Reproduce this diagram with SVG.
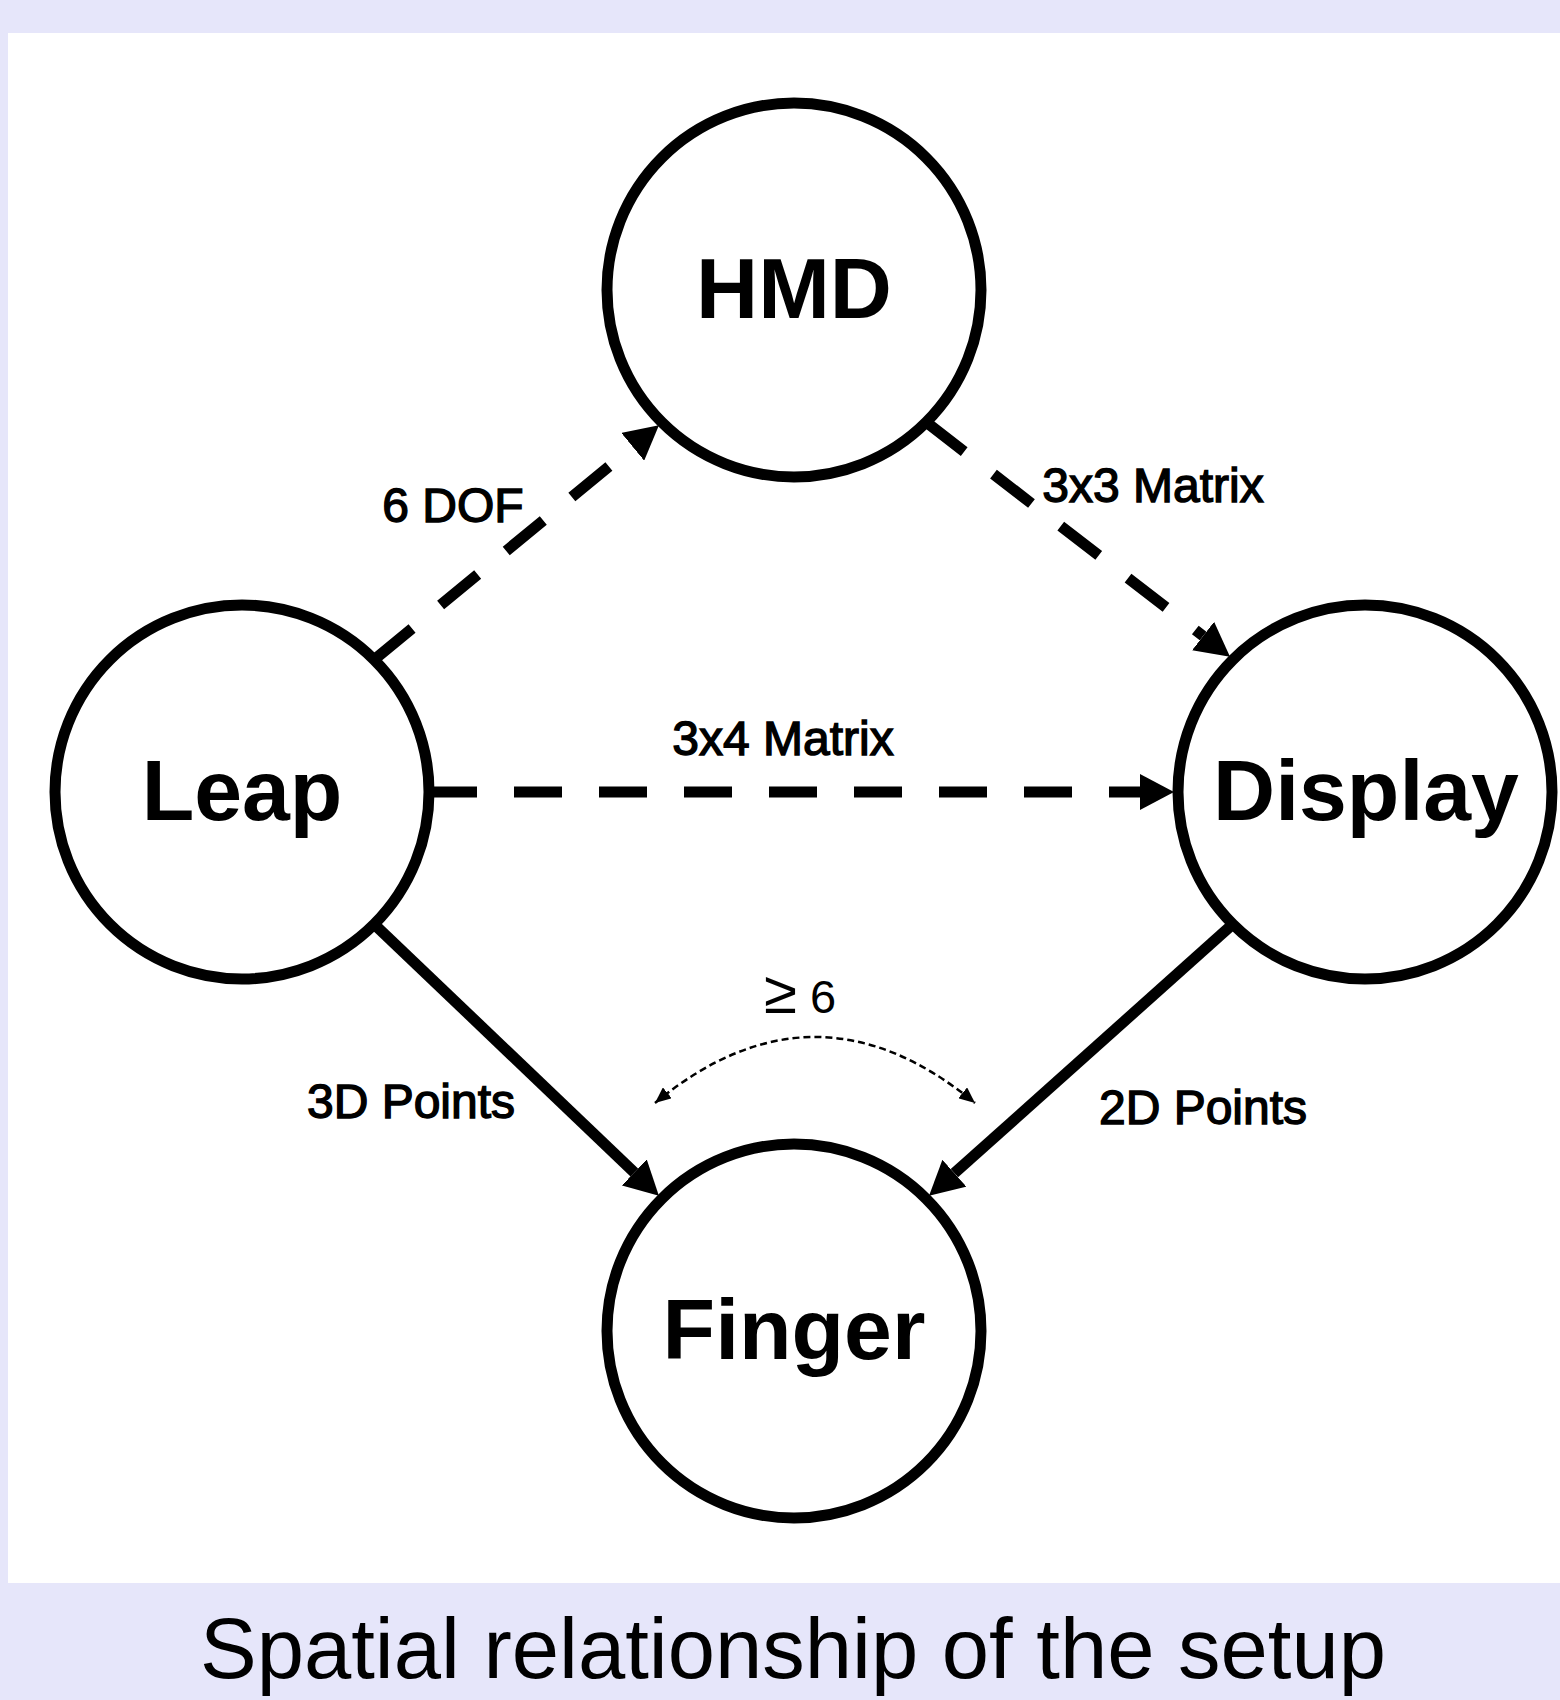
<svg xmlns="http://www.w3.org/2000/svg" width="1560" height="1700" viewBox="0 0 1560 1700">
  <style>
    .node circle { fill: #ffffff; stroke: #000000; stroke-width: 11; }
    .node text { font-family: "Liberation Sans", Arial, sans-serif; font-weight: bold; font-size: 86px; text-anchor: middle; fill: #000000; }
    .edge { fill: none; stroke: #000000; stroke-width: 11; }
    .dashed { stroke-dasharray: 48 37; }
    .thin { fill: none; stroke: #000000; stroke-width: 2.5; stroke-dasharray: 7 4; }
    .label { font-family: "Liberation Sans", Arial, sans-serif; font-size: 48px; text-anchor: middle; fill: #000000; stroke: #000000; stroke-width: 1.4; }
    .caption { font-family: "Liberation Sans", Arial, sans-serif; font-size: 85px; text-anchor: middle; fill: #000000; }
  </style>
  <defs>
    <marker id="arr" markerUnits="userSpaceOnUse" markerWidth="34" markerHeight="36" refX="0" refY="18" orient="auto" viewBox="0 0 34 36">
      <path d="M0,0 L34,18 L0,36 z" fill="#000000"/>
    </marker>
    <marker id="sarr" markerUnits="userSpaceOnUse" markerWidth="16" markerHeight="14" refX="16" refY="7" orient="auto-start-reverse" viewBox="0 0 16 14">
      <path d="M0,0 L16,7 L0,14 z" fill="#000000"/>
    </marker>
  </defs>

  <rect x="0" y="0" width="1560" height="1700" fill="#e6e6fa"/>
  <rect x="8" y="33" width="1552" height="1550" fill="#ffffff"/>

  <g id="connectors">
    <line id="e-leap-hmd" class="edge dashed" x1="375" y1="659" x2="632.7" y2="446.8" marker-end="url(#arr)"/>
    <line id="e-hmd-display" class="edge dashed" x1="926.2" y1="422.2" x2="1203.1" y2="636" marker-end="url(#arr)"/>
    <line id="e-leap-display" class="edge dashed" x1="429" y1="792" x2="1140" y2="792" marker-end="url(#arr)"/>
    <line id="e-leap-finger" class="edge" x1="374.2" y1="924.2" x2="634.3" y2="1172.4" marker-end="url(#arr)"/>
    <line id="e-display-finger" class="edge" x1="1232.8" y1="924.2" x2="954.4" y2="1173.2" marker-end="url(#arr)"/>
    <path id="e-angle" class="thin" d="M655,1103 Q815,971 975,1103" marker-start="url(#sarr)" marker-end="url(#sarr)"/>
    <text class="label" x="453" y="522">6 DOF</text>
    <text class="label" x="1153" y="502">3x3 Matrix</text>
    <text class="label" x="783" y="755">3x4 Matrix</text>
    <text class="label" x="411" y="1118">3D Points</text>
    <text class="label" x="1203" y="1124">2D Points</text>
    <text x="800" y="1013" font-family="Liberation Sans, Arial, sans-serif" font-size="47" text-anchor="middle" fill="#000000"><tspan font-size="60">≥</tspan> 6</text>
  </g>

  <g id="node-hmd" class="node">
    <circle cx="794" cy="290" r="187"/>
    <text x="794" y="318">HMD</text>
  </g>
  <g id="node-leap" class="node">
    <circle cx="242" cy="792" r="187"/>
    <text x="242" y="820">Leap</text>
  </g>
  <g id="node-display" class="node">
    <circle cx="1365" cy="792" r="187"/>
    <text x="1366" y="820">Display</text>
  </g>
  <g id="node-finger" class="node">
    <circle cx="794" cy="1331" r="187"/>
    <text x="794" y="1359">Finger</text>
  </g>

  <text class="caption" x="793" y="1678">Spatial relationship of the setup</text>
</svg>
